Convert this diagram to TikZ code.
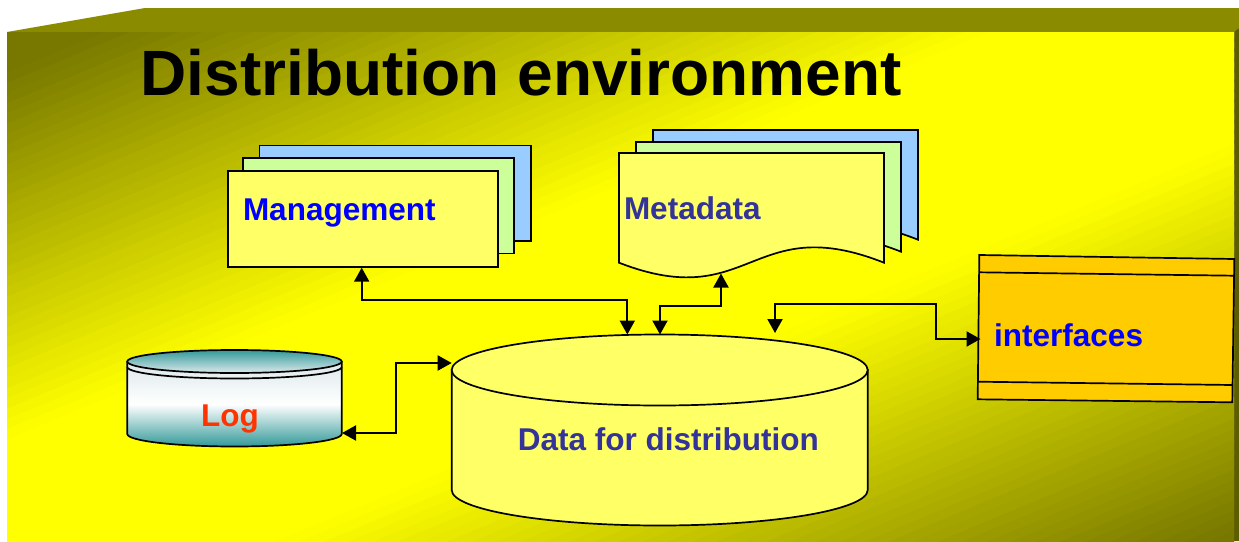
\documentclass[tikz,border=0pt]{standalone}
\usepackage{fontspec}
\setmainfont{Liberation Sans}
\usetikzlibrary{arrows.meta}
\definecolor{olvdark}{RGB}{120,120,0}
\definecolor{bgyel}{RGB}{255,255,0}
\definecolor{olvtop}{RGB}{139,139,0}
\definecolor{olvside}{RGB}{92,92,0}
\definecolor{paleyel}{RGB}{255,255,102}
\definecolor{palegrn}{RGB}{204,255,153}
\definecolor{paleblu}{RGB}{153,204,255}
\definecolor{tealc}{RGB}{51,153,153}
\definecolor{tealpale}{RGB}{221,233,236}
\definecolor{ifcor}{RGB}{255,204,0}
\definecolor{txtblue}{RGB}{0,0,255}
\definecolor{txtnavy}{RGB}{51,51,153}
\definecolor{txtred}{RGB}{255,51,0}
\definecolor{pwhite}{RGB}{255,255,255}
\tikzset{
  sheet/.style={draw=black, line width=1.7pt, line join=miter},
  lbl/.style={font=\fontsize{31.5}{36}\selectfont\bfseries, inner sep=0pt, anchor=base west},
  link/.style={draw=black, line width=2pt, {Triangle[length=14pt,width=15pt]}-{Triangle[length=14pt,width=15pt]}},
}
\begin{document}
\begin{tikzpicture}[x=1pt,y=-1pt]
\useasboundingbox (0,0) rectangle (1239,541);
% background box
\fill[olvtop] (7,32) -- (145,8) -- (1239,8) -- (1239,28) -- (1234,32) -- cycle;
\fill[olvside] (1234,32) -- (1239,28) -- (1239,541) -- (1234,541) -- cycle;
\begin{scope}
\clip (7,32) rectangle (1234,541);
\fill[olvdark] (7,32) rectangle (1234,541);
\foreach \i in {0,...,99}{
  \pgfmathsetmacro\sa{\i/100}
  \pgfmathsetmacro\sb{(\i+1.6)/100}
  \pgfmathsetmacro\sm{(\i+0.5)/100}
  \pgfmathsetmacro\p{max(0,min(100,min(100*(\sm-0.04)/0.36,100*(0.99-\sm)/0.38)))}
  \fill[bgyel!\p!olvdark] ({7+1227*(2*\sa+1)},-477) -- ({7+1227*(2*\sa-2)},1050) -- ({7+1227*(2*\sb-2)},1050) -- ({7+1227*(2*\sb+1)},-477) -- cycle;
}
\end{scope}
% title
\node[font=\fontsize{64}{70}\selectfont\bfseries, inner sep=0pt, anchor=base west] (title) at (140.5,95) {Distribution environment};
% management stack
\draw[sheet, fill=paleblu] (259.5,145.5) rectangle (531,241);
\draw[sheet, fill=palegrn] (243,158) rectangle (514,253.5);
\node[sheet, fill=paleyel, anchor=north west, minimum width=270pt, minimum height=96pt, inner sep=0pt] (mgmt) at (227,170) {};
\node[lbl, text=txtblue] (mgmtlbl) at (242.8,220.7) {Management};
% metadata stack
\foreach \dx/\dy/\c in {34/-23/paleblu, 17/-11/palegrn, 0/0/paleyel}{
  \draw[sheet, fill=\c, shift={(\dx,\dy)}] (619,153) -- (884,153) -- (884,262.7) .. controls (751,210) and (751,314) .. (619,262.7) -- cycle;
}
\node[lbl, text=txtnavy] (metalbl) at (623.8,219.3) {Metadata};
\coordinate (metaB) at (721,273.5);
% interfaces
\draw[sheet, fill=ifcor] (979.3,255) -- (1234.3,259) -- (1232.3,402.3) -- (977.7,399.3) -- cycle;
\draw[sheet] (979,272.3) -- (1234.1,275.7);
\draw[sheet] (977.9,381.7) -- (1232.5,385);
\node[lbl, text=txtblue] (ifclbl) at (994,346) {interfaces};
\coordinate (ifcin) at (980.5,339);
% log cylinder
\draw[sheet, top color=tealpale, bottom color=tealc, middle color=pwhite] (127.3,362) -- (127.3,434) arc[start angle=180, end angle=360, x radius=107.2pt, y radius=12.5pt] -- (341.7,362) -- cycle;
\draw[sheet] (127.3,367) arc[start angle=180, end angle=360, x radius=107.2pt, y radius=11.5pt];
\draw[sheet, top color=tealc, bottom color=tealpale] (234.5,361.5) ellipse[x radius=107.2pt, y radius=11.5pt];
\node[lbl, text=txtred] (loglbl) at (201,426.7) {Log};
\coordinate (logR) at (342,433);
% data cylinder
\draw[sheet, fill=paleyel] (451.7,370) -- (451.7,490) arc[start angle=180, end angle=360, x radius=208pt, y radius=35.5pt] -- (867.7,370) -- cycle;
\draw[sheet, fill=paleyel] (659.7,370) ellipse[x radius=208pt, y radius=35.5pt];
\node[lbl, text=txtnavy] (datalbl) at (517.7,450) {Data for distribution};
\coordinate (dA) at (627.3,334.5);
\coordinate (dB) at (660,334.5);
\coordinate (dC) at (775,333);
\coordinate (dL) at (451.7,363);
% connectors
\draw[link] ([xshift=134.7pt]mgmt.south west) |- (627.3,300) -- (dA);
\draw[link] (dB) |- (721,306) -- (metaB);
\draw[link] (dC) |- (936,304.3) |- (ifcin);
\draw[link] (logR) -| (396,363) -- (dL);
\end{tikzpicture}
\end{document}
